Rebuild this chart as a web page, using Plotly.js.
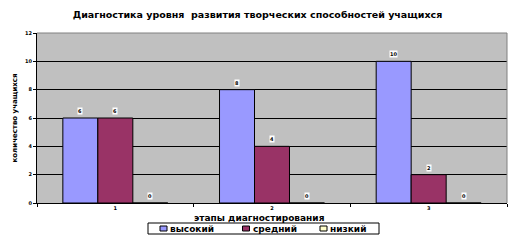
<!DOCTYPE html>
<html>
<head>
<meta charset="utf-8">
<script src="https://cdn.plot.ly/plotly-3.0.1.min.js"></script>
<style>
  html, body { margin: 0; padding: 0; background: #fff; }
  #chart { width: 515px; height: 242px; }
</style>
</head>
<body>
<div id="chart"></div>
<script>
// Stages of the diagnostic and the number of pupils at each level
const stages = ['1', '2', '3'];
const levelNames = ['высокий', 'средний', 'низкий'];
const high = [6, 8, 10];
const medium = [6, 4, 2];
const low = [0, 0, 0];

const seriesValues = [high, medium, low];
const seriesColors = ['#9999FF', '#993366', '#FFFFCC'];
const FONT = 'DejaVu Sans, Arial, sans-serif';

// Plot area in pixels, used to place the frame, axis title and legend key
const W = 515, H = 242;
const M = { l: 37, r: 8, t: 33, b: 39 };
const plotW = W - M.l - M.r, plotH = H - M.t - M.b;
const px = x => (x - M.l) / plotW;
const py = y => (H - M.b - y) / plotH;

const traces = seriesValues.map((vals, i) => ({
  type: 'bar',
  name: levelNames[i],
  x: stages,
  y: vals,
  marker: { color: seriesColors[i], line: { color: '#000', width: 1 } },
  showlegend: false,
  hoverinfo: 'skip'
}));

// Value labels sit above each bar in small white boxes
const bargap = 0.33;
const barW = (1 - bargap) / seriesValues.length;
const annotations = [];
seriesValues.forEach((vals, s) => {
  vals.forEach((v, c) => {
    annotations.push({
      xref: 'x', yref: 'y',
      x: c + (s - 1) * barW,
      y: v,
      yshift: 7,
      text: String(v),
      showarrow: false,
      bgcolor: '#fff',
      borderpad: 0,
      font: { family: FONT, size: 5, color: '#000', weight: 'bold' }
    });
  });
});

// x-axis title, below the stage numbers
annotations.push({
  xref: 'paper', yref: 'paper',
  x: px(259), y: py(218),
  xanchor: 'center', yanchor: 'middle',
  text: 'этапы диагностирования',
  showarrow: false,
  font: { family: FONT, size: 9, color: '#000', weight: 'bold' }
});

// Legend key: bordered box with a swatch and name per level
const shapes = [
  { type: 'line', xref: 'paper', yref: 'paper', x0: 0, x1: 1, y0: 1, y1: 1,
    line: { color: '#808080', width: 1 } },
  { type: 'line', xref: 'paper', yref: 'paper', x0: 1, x1: 1, y0: 0, y1: 1,
    line: { color: '#808080', width: 1 } },
  { type: 'rect', xref: 'paper', yref: 'paper',
    x0: px(148), x1: px(379), y0: py(234), y1: py(223),
    line: { color: '#000', width: 1 }, fillcolor: '#fff' }
];
const keyX = [160, 242.5, 320];
levelNames.forEach((name, i) => {
  shapes.push({
    type: 'rect', xref: 'paper', yref: 'paper',
    x0: px(keyX[i]), x1: px(keyX[i] + 7), y0: py(231), y1: py(226),
    line: { color: '#000', width: 1 }, fillcolor: seriesColors[i]
  });
  annotations.push({
    xref: 'paper', yref: 'paper',
    x: px(keyX[i] + 8), y: py(228.7),
    xanchor: 'left', yanchor: 'middle',
    text: name, showarrow: false,
    font: { family: FONT, size: 9, color: '#000', weight: 'bold' }
  });
});

const layout = {
  width: W, height: H,
  margin: M,
  paper_bgcolor: '#fff',
  plot_bgcolor: '#C0C0C0',
  barmode: 'group',
  bargap: bargap,
  bargroupgap: 0,
  showlegend: false,
  title: {
    text: 'Диагностика уровня  развития творческих способностей учащихся',
    font: { family: FONT, size: 9.5, color: '#000', weight: 'bold' },
    x: 0.5, xanchor: 'center',
    y: 1 - 15 / H, yanchor: 'middle'
  },
  xaxis: {
    type: 'category',
    showgrid: false,
    showline: true, linecolor: '#000', linewidth: 1,
    ticks: 'outside', tickson: 'boundaries', ticklen: 3, tickcolor: '#000',
    tickfont: { family: FONT, size: 5, color: '#000', weight: 'bold' },
    fixedrange: true
  },
  yaxis: {
    range: [0, 12],
    dtick: 2,
    showgrid: true, gridcolor: '#000', gridwidth: 1,
    zeroline: false,
    showline: true, linecolor: '#000', linewidth: 1,
    ticks: 'outside', ticklen: 3, tickcolor: '#000',
    tickfont: { family: FONT, size: 5, color: '#000', weight: 'bold' },
    title: {
      text: 'количество учащихся',
      font: { family: FONT, size: 7, color: '#000', weight: 'bold' },
      standoff: 6
    },
    fixedrange: true
  },
  shapes: shapes,
  annotations: annotations
};

Plotly.newPlot('chart', traces, layout, { displayModeBar: false, staticPlot: true });
</script>
</body>
</html>
